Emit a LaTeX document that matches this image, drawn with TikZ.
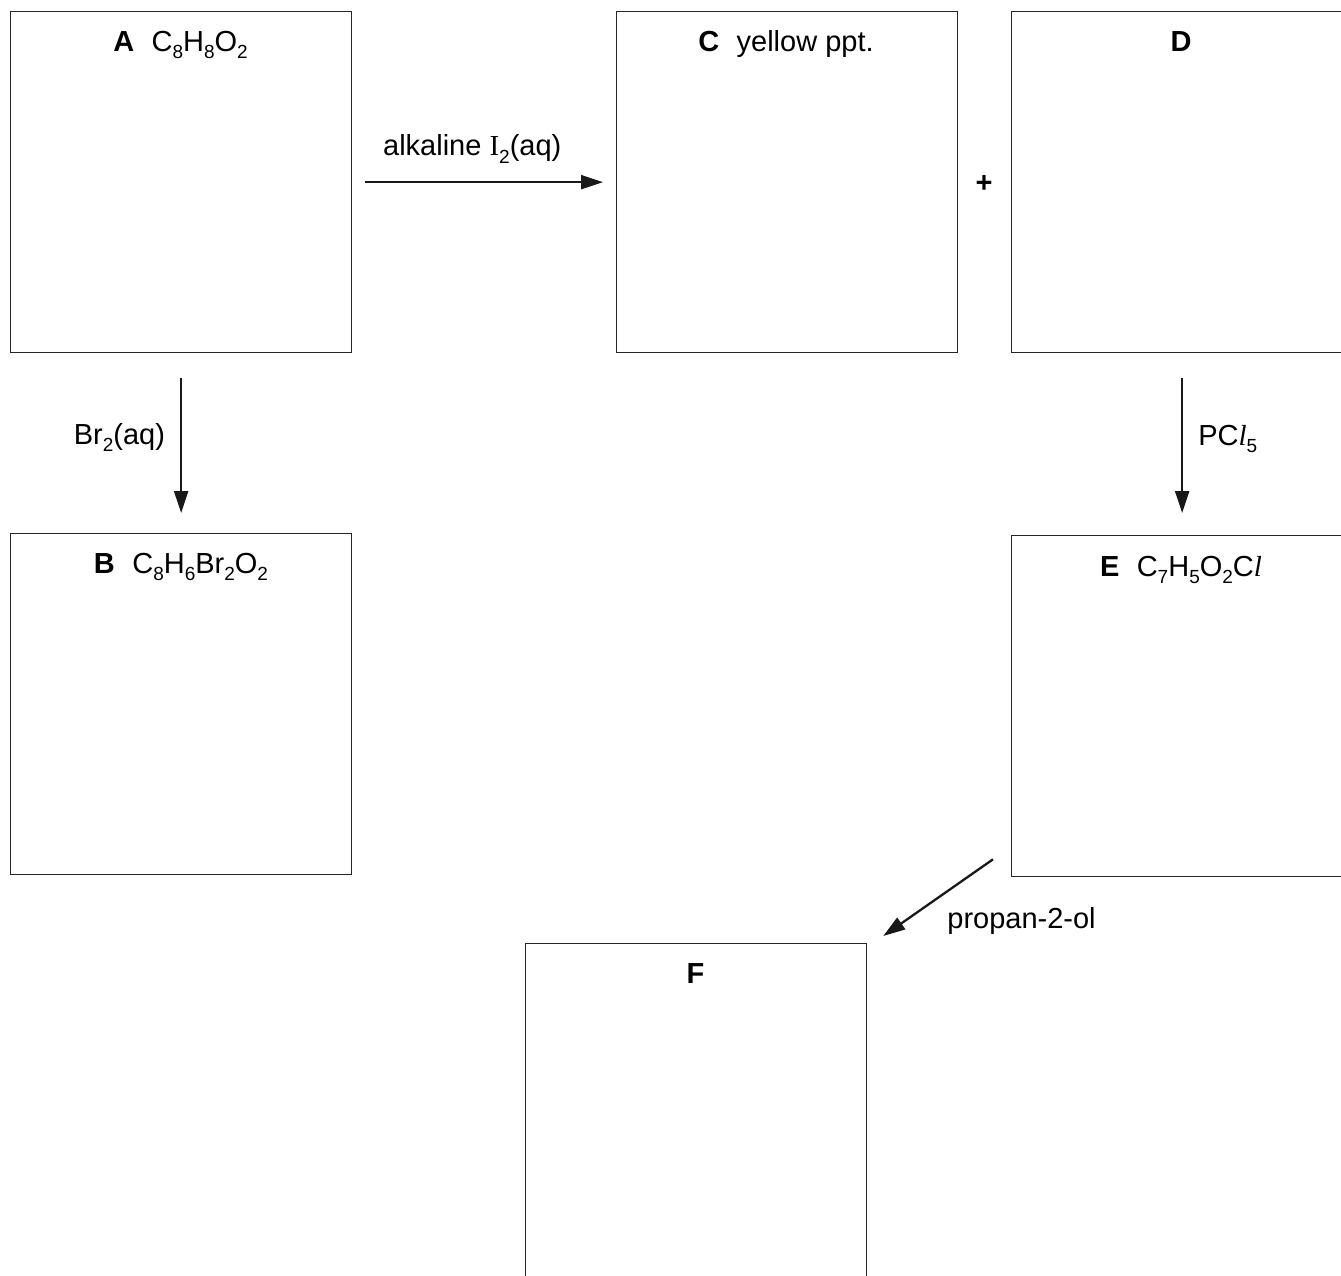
\documentclass[tikz,border=0pt]{standalone}
\usepackage{fontspec}
\setmainfont{Liberation Sans}
\newfontfamily\serifff{Liberation Serif}
\usetikzlibrary{arrows.meta}
\newcommand\subs[1]{\raisebox{-3.8pt}{\fontsize{9.5}{9.5}\selectfont #1}}
\newcommand\itell{{\serifff\itshape l}}
\tikzset{
  box/.style={draw=black!85, line width=0.65pt, rectangle, minimum width=170.5pt, minimum height=170.5pt, anchor=north west, inner sep=0pt},
  ttl/.style={anchor=base, inner sep=0pt, font=\fontsize{14.5}{17}\selectfont},
  lbl/.style={inner sep=0pt, font=\fontsize{14.5}{17}\selectfont},
  arr/.style={draw=black!90, line width=1.15pt, -{Triangle[length=11pt,width=7pt]}}
}
\begin{document}
\begin{tikzpicture}[x=0.5pt,y=-0.5pt]
\useasboundingbox (0,0) rectangle (1341,1276);
\clip (0,0) rectangle (1341,1276);
\node[box] (A) at (10,11) {};
\node[box] (C) at (616,11) {};
\node[box] (D) at (1011,11) {};
\node[box] (B) at (10,533) {};
\node[box] (E) at (1011,535) {};
\node[box] (F) at (525,943) {};

\node[ttl] (tA) at (180.5,51) {\textbf{A}\hspace{0.6em}C\subs{8}H\subs{8}O\subs{2}};
\node[ttl] (tC) at (786,51) {\textbf{C}\hspace{0.6em}yellow ppt.};
\node[ttl] (tD) at (1181,51) {\textbf{D}};
\node[ttl] (tB) at (181,573) {\textbf{B}\hspace{0.6em}C\subs{8}H\subs{6}Br\subs{2}O\subs{2}};
\node[ttl] (tE) at (1181,576) {\textbf{E}\hspace{0.6em}C\subs{7}H\subs{5}O\subs{2}C\itell};
\node[ttl] (tF) at (695.5,983) {\textbf{F}};

\node[lbl, font=\fontsize{14.5}{17}\selectfont\bfseries] (plus) at (984,184) {+};

\draw[arr] ([xshift=6.5pt]A.east) -- ([xshift=-6.5pt]C.west)
  node[lbl, pos=0.45, above=9pt] (l1) {alkaline {\serifff I}\subs{2}(aq)};
\draw[arr] ([yshift=-12.5pt]A.south) -- ([yshift=10pt]B.north)
  node[lbl, pos=0.44, left=7.5pt] (l2) {Br\subs{2}(aq)};
\draw[arr] ([yshift=-12.5pt]D.south) -- ([yshift=11pt]E.north)
  node[lbl, pos=0.45, right=7.5pt] (l3) {PC\itell\subs{5}};
\coordinate (e1) at ([shift={(-9pt,9pt)}]E.south west);
\coordinate (f1) at ([shift={(8pt,3.5pt)}]F.north east);
\draw[arr] (e1) -- (f1);
\node[lbl, anchor=base west] (l4) at (947,928) {propan-2-ol};
\end{tikzpicture}
\end{document}
